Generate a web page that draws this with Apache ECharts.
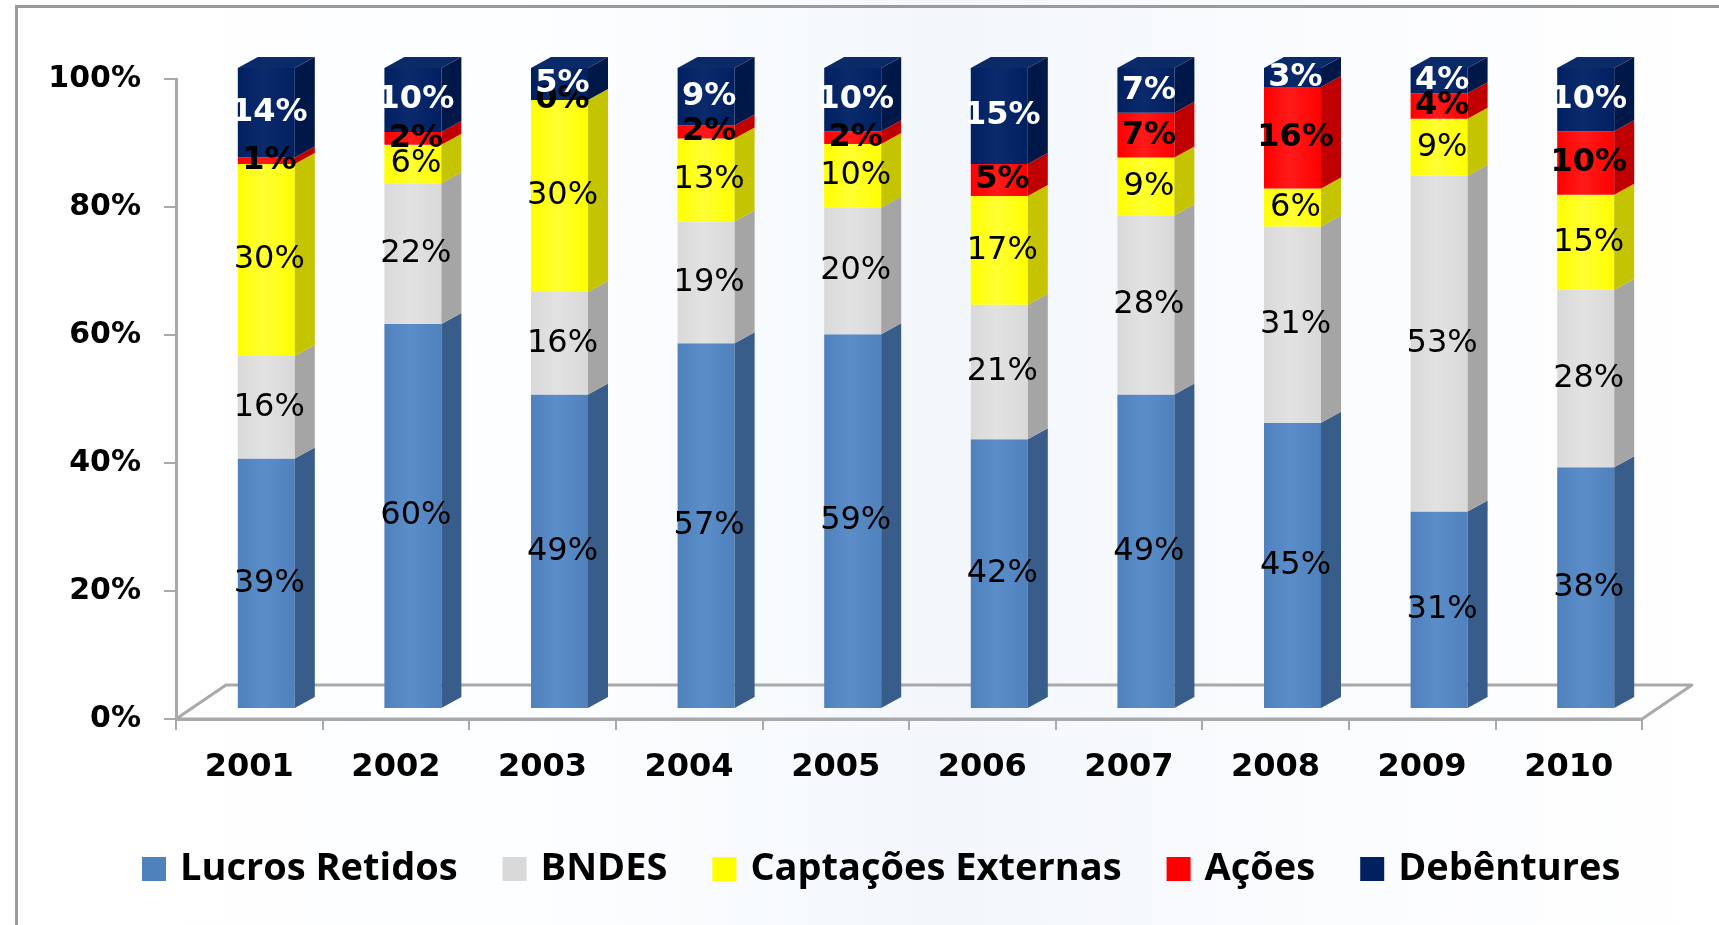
<!DOCTYPE html>
<html>
<head>
<meta charset="utf-8">
<script src="https://cdn.jsdelivr.net/npm/echarts@6/dist/echarts.min.js"></script>
<style>
html,body{margin:0;padding:0;background:#fff;}
#chart{width:1719px;height:925px;}
</style>
</head>
<body>
<div id="chart"></div>
<script>
const categories = ['2001','2002','2003','2004','2005','2006','2007','2008','2009','2010'];
const lucrosRetidos = [39,60,49,57,59,42,49,45,31,38];
const bndes = [16,22,16,19,20,21,28,31,53,28];
const captacoesExternas = [30,6,30,13,10,17,9,6,9,15];
const acoes = [1,2,0,2,2,5,7,16,4,10];
const debentures = [14,10,5,9,10,15,7,3,4,10];
const seriesNames = ['Lucros Retidos','BNDES','Captações Externas','Ações','Debêntures'];
const yTickValues = [0,20,40,60,80,100];

const layers = [lucrosRetidos, bndes, captacoesExternas, acoes, debentures];
const styles = [
  {front:'#4f81bd', light:'#5b8dc9', side:'#385d8a', top:'#5a8ac4', label:'#000', weight:'normal'},
  {front:'#d9d9d9', light:'#e2e2e2', side:'#a5a5a5', top:'#e6e6e6', label:'#000', weight:'normal'},
  {front:'#ffff00', light:'#ffff33', side:'#c4c400', top:'#ffff55', label:'#000', weight:'normal'},
  {front:'#ff0000', light:'#ff1a1a', side:'#c00000', top:'#ff3030', label:'#000', weight:'bold'},
  {front:'#002060', light:'#0a2a6c', side:'#001848', top:'#0b2a68', label:'#ffffff', weight:'bold'}
];

const totals = categories.map((c, i) => layers.reduce((s, arr) => s + arr[i], 0));

const W = 57, DX = 20, DY = 11, OX = 17, OY = -11;

function makeSeries(k) {
  const data = categories.map((c, i) => {
    let base = 0;
    for (let j = 0; j < k; j++) base += layers[j][i];
    const b = base / totals[i] * 100;
    const t = (base + layers[k][i]) / totals[i] * 100;
    return [i, b, t, layers[k][i]];
  });
  const st = styles[k];
  const isTop = k === layers.length - 1;
  return {
    type: 'custom',
    name: seriesNames[k],
    z: 2,
    itemStyle: {color: st.front},
    data: data,
    renderItem: function (params, api) {
      const i = api.value(0), b = api.value(1), t = api.value(2), v = api.value(3);
      const pt = api.coord([i, t]);
      const pb = api.coord([i, b]);
      const xc = pt[0] + OX;
      const x0 = xc - W / 2, x1 = xc + W / 2;
      const yT = pt[1] + OY, yB = pb[1] + OY;
      const children = [];
      children.push({
        type: 'rect',
        shape: {x: x0, y: yT, width: W, height: Math.max(0, yB - yT)},
        style: {fill: new echarts.graphic.LinearGradient(0, 0, 1, 0, [
          {offset: 0, color: st.front}, {offset: 0.45, color: st.light}, {offset: 1, color: st.front}
        ])}
      });
      children.push({
        type: 'polygon',
        shape: {points: [[x1, yB], [x1 + DX, yB - DY], [x1 + DX, yT - DY], [x1, yT]]},
        style: {fill: st.side}
      });
      if (isTop) {
        children.push({
          type: 'polygon',
          shape: {points: [[x0, yT], [x0 + DX, yT - DY], [x1 + DX, yT - DY], [x1, yT]]},
          style: {fill: st.top}
        });
      }
      children.push({
        type: 'text',
        z2: 100 + k,
        style: {
          text: v + '%',
          x: xc + 3,
          y: (yT + yB) / 2,
          align: 'center',
          verticalAlign: 'middle',
          fill: st.label,
          font: st.weight + ' 32px "DejaVu Sans"'
        }
      });
      return {type: 'group', children: children};
    }
  };
}

const floorSeries = {
  type: 'custom',
  name: 'floor',
  z: 1,
  silent: true,
  data: [[0, 0]],
  renderItem: function (params, api) {
    const band = api.size([1, 0])[0];
    const a = api.coord([0, 0]);
    const z = api.coord([categories.length - 1, 0]);
    const L = a[0] - band / 2, R = z[0] + band / 2, y = a[1];
    const fdx = 50, fdy = -34;
    return {
      type: 'group',
      children: [
        {type: 'polygon', shape: {points: [[L, y], [R, y], [R + fdx, y + fdy], [L + fdx, y + fdy]]},
         style: {fill: 'rgba(255,255,255,0)', stroke: '#a9a9a9', lineWidth: 3, lineJoin: 'round'}}
      ]
    };
  }
};

const chart = echarts.init(document.getElementById('chart'));
chart.setOption({
  animation: false,
  backgroundColor: new echarts.graphic.LinearGradient(0, 0, 1, 0, [
    {offset: 0, color: '#ffffff'}, {offset: 0.3, color: '#fdfeff'}, {offset: 0.55, color: '#f3f7fc'}, {offset: 0.8, color: '#fbfcfe'}, {offset: 1, color: '#ffffff'}
  ]),
  graphic: [
    {type: 'rect', left: 15, top: 5, shape: {width: 1740, height: 960}, style: {fill: 'transparent', stroke: '#9a9a9a', lineWidth: 3}, z: -1}
  ],
  grid: {left: 176, right: 77, top: 79, bottom: 206},
  legend: {
    data: seriesNames,
    left: 137,
    top: 845,
    icon: 'rect',
    itemWidth: 24,
    itemHeight: 24,
    itemGap: 45,
    textStyle: {fontFamily: '"Open Sans"', fontWeight: 'bold', fontSize: 38, color: '#000', padding: [0, 0, 0, 9]}
  },
  xAxis: {
    type: 'category',
    data: categories,
    axisLine: {show: true, lineStyle: {color: '#a9a9a9', width: 3}},
    axisTick: {show: true, length: 11, lineStyle: {color: '#a9a9a9', width: 2}},
    axisLabel: {margin: 33, fontFamily: '"DejaVu Sans"', fontWeight: 'bold', fontSize: 32, color: '#000'},
    splitLine: {show: false}
  },
  yAxis: {
    type: 'value',
    min: 0,
    max: 100,
    interval: 20,
    axisLine: {show: true, lineStyle: {color: '#a9a9a9', width: 3}},
    axisTick: {show: true, length: 12, lineStyle: {color: '#a9a9a9', width: 2}},
    axisLabel: {
      margin: 35,
      formatter: function (v) { return yTickValues.indexOf(v) >= 0 ? v + '%' : ''; },
      fontFamily: '"DejaVu Sans"', fontWeight: 'bold', fontSize: 30, color: '#000'
    },
    splitLine: {show: false}
  },
  series: [floorSeries].concat(layers.map((arr, k) => makeSeries(k)))
});
</script>
</body>
</html>
